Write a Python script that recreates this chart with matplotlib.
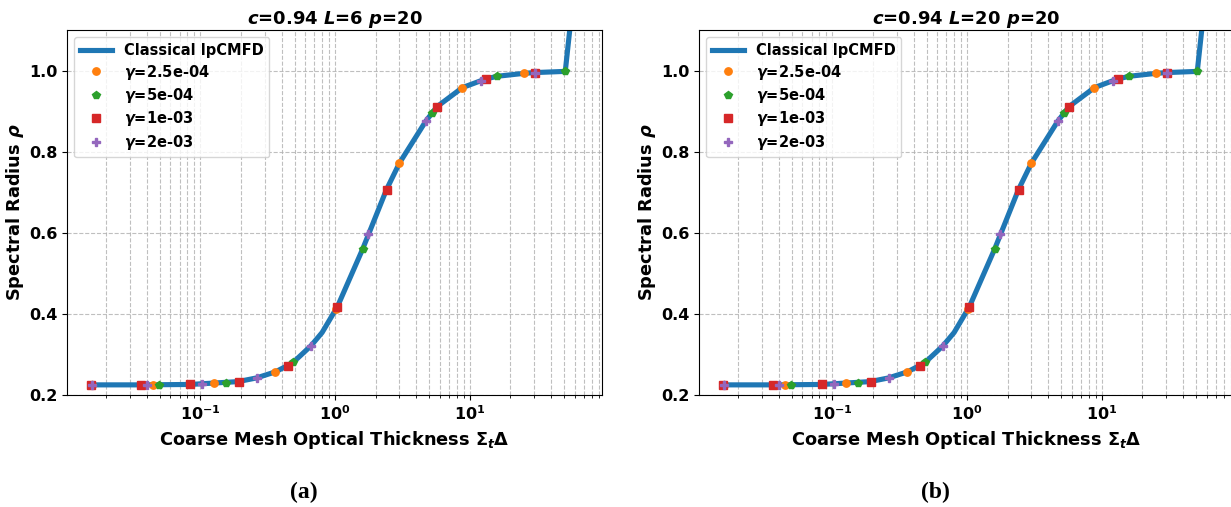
import numpy as np
import matplotlib
matplotlib.use("Agg")
import matplotlib.pyplot as plt

# bold everywhere, bold-italic math symbols (c, L, p, gamma, rho, t)
plt.rcParams.update({
    "font.family": "DejaVu Sans",
    "font.weight": "bold",
    "axes.labelweight": "bold",
    "axes.titleweight": "bold",
    "mathtext.fontset": "custom",
    "mathtext.rm": "DejaVu Sans:bold",
    "mathtext.it": "DejaVu Sans:bold:italic",
    "mathtext.bf": "DejaVu Sans:bold",
})

# Values; both panels look identical.
LINE_X = [0.0158, 0.036, 0.084, 0.19, 0.26, 0.36, 0.44, 0.49, 0.66, 0.80,
          1.04, 1.6, 2.4, 3.0, 4.7, 5.7, 8.8, 13, 16, 25, 30, 51, 63]
LINE_Y = [0.225, 0.225, 0.226, 0.233, 0.242, 0.257, 0.272, 0.281, 0.321, 0.354,
          0.418, 0.56, 0.706, 0.772, 0.875, 0.911, 0.958, 0.979, 0.986, 0.993, 0.995, 0.998, 1.28]

G1_X = [0.0158, 0.0448, 0.126, 0.358, 1.01, 3.0, 8.8, 25]
G1_Y = [0.225, 0.225, 0.229, 0.257, 0.411, 0.772, 0.958, 0.993]
G2_X = [0.0158, 0.0496, 0.156, 0.487, 1.6, 5.2, 16, 51]
G2_Y = [0.225, 0.225, 0.230, 0.281, 0.56, 0.895, 0.986, 0.998]
G3_X = [0.0155, 0.0362, 0.084, 0.193, 0.445, 1.04, 2.42, 5.65, 13.2, 30.5]
G3_Y = [0.225, 0.225, 0.226, 0.233, 0.272, 0.418, 0.706, 0.911, 0.979, 0.995]
G4_X = [0.0158, 0.040, 0.102, 0.262, 0.664, 1.75, 4.7, 12.0, 30.5]
G4_Y = [0.225, 0.225, 0.227, 0.242, 0.321, 0.597, 0.875, 0.975, 0.995]

GAMMAS = [
    (G1_X, G1_Y, r"$\gamma$=2.5e-04", "o", "tab:orange", 5.3),
    (G2_X, G2_Y, r"$\gamma$=5e-04", "p", "tab:green", 5.5),
    (G3_X, G3_Y, r"$\gamma$=1e-03", "s", "tab:red", 5.5),
    (G4_X, G4_Y, r"$\gamma$=2e-03", "P", "tab:purple", 6),
]
PANELS = [
    (r"$c$=0.94 $L$=6 $p$=20", "(a)"),
    (r"$c$=0.94 $L$=20 $p$=20", "(b)"),
]
AX_LEFT = [0.0544, 0.5678]


def draw_panel(ax, title):
    ax.semilogx(LINE_X, LINE_Y, color="tab:blue", lw=3.7, label="Classical lpCMFD")
    for xs, ys, lab, mk, col, ms in GAMMAS:
        ax.semilogx(xs, ys, ls="none", marker=mk, color=col, ms=ms, label=lab)
    ax.set_ylim(0.2, 1.1)
    ax.grid(True, which="both", ls="--", color="#b0b0b0", alpha=0.8)
    ax.set_xlabel(r"Coarse Mesh Optical Thickness $\Sigma_t\Delta$", fontsize=12.8)
    ax.set_ylabel(r"Spectral Radius $\rho$", fontsize=12.8, labelpad=2)
    ax.set_title(title, fontsize=13, pad=4)
    ax.tick_params(labelsize=11.5)
    ax.legend(loc="upper left", fontsize=10.5, handlelength=2.2, labelspacing=0.3)


def main():
    fig = plt.figure(figsize=(12.31, 5.07), dpi=100)
    for left, (title, cap) in zip(AX_LEFT, PANELS):
        ax = fig.add_axes([left, 0.2209, 0.4346, 0.7199])
        draw_panel(ax, title)
        fig.text(left + 0.4346 / 2 - 0.025, 0.028, cap, ha="center", va="center",
                 family="Liberation Serif", fontweight="bold", fontsize=17)
    fig.savefig("out.png", dpi=100)


if __name__ == "__main__":
    main()
